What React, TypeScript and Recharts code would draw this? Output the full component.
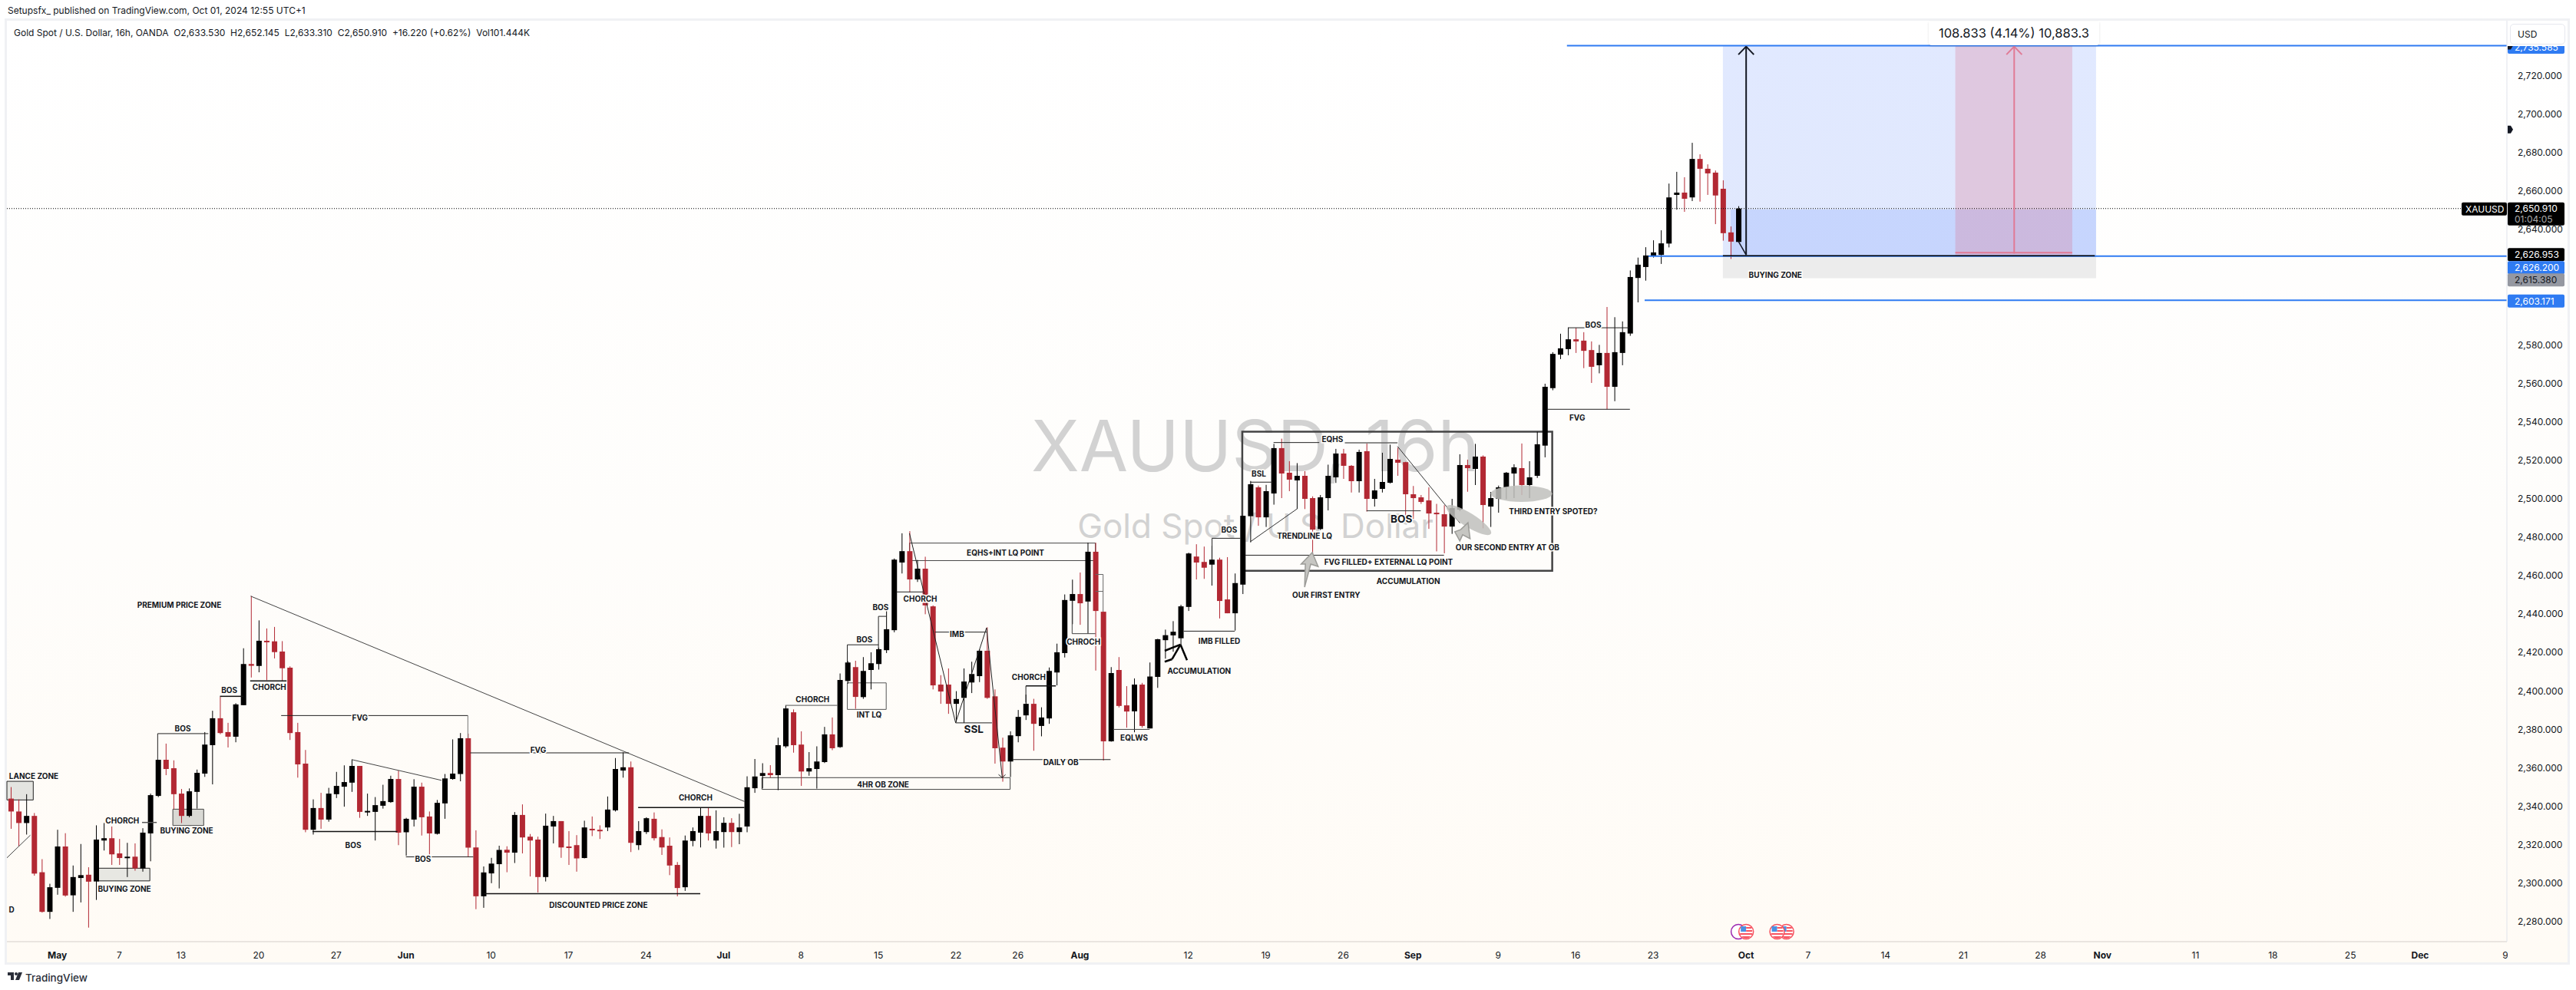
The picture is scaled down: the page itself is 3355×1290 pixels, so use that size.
import { Bar, ComposedChart, ReferenceArea, ReferenceDot, ReferenceLine, XAxis, YAxis } from 'recharts';

// OHLC, one entry per 16h bar, bar 1 is the first one at the left edge
const opens = [
  2344, 2337.3, 2331.3, 2335, 2305.7, 2285.1, 2297.6, 2319.1, 2293.7, 2302.7, 2304.4, 2300.9, 2322.2, 2323.4, 2315.5, 2313.2,
  2313.8, 2307.7, 2325.9, 2345.4, 2364.2, 2359.8, 2346.6, 2335, 2347.5, 2357, 2371.8, 2385.8, 2378.6, 2376.2, 2392.6, 2414,
  2413, 2426.1, 2425.8, 2420.5, 2412.1, 2378.6, 2362.2, 2327.8, 2339.1, 2333.1, 2346.3, 2350.2, 2352.3, 2361, 2337.1, 2337.1,
  2340.3, 2342.2, 2354.2, 2326.5, 2333.1, 2350.2, 2334.7, 2325.7, 2341.5, 2354.2, 2356.8, 2375.4, 2318.6, 2293.2, 2305.1, 2309.9,
  2317.4, 2315.9, 2335.5, 2324.2, 2322.7, 2303.2, 2329.5, 2332.3, 2319.1, 2319.8, 2313.1, 2328.3, 2327.8, 2329, 2337.9, 2358.6,
  2360.3, 2319.8, 2326.6, 2333.5, 2324, 2319.5, 2309.5, 2297.9, 2322, 2326.3, 2335, 2322.2, 2326.6, 2331.4, 2326.6, 2329.5,
  2349.4, 2355.8, 2357.3, 2356.2, 2371.2, 2388.9, 2372.1, 2358.1, 2359.4, 2363, 2377.4, 2370.8, 2405.2, 2412.4, 2396.8, 2410.9,
  2414, 2421.2, 2431.6, 2466.8, 2472.7, 2458, 2463.6, 2444, 2403.3, 2403.3, 2393.3, 2396.4, 2404.4, 2407.7, 2420.9, 2397.2,
  2370.5, 2363.3, 2376.5, 2387.3, 2393.3, 2381.8, 2385.7, 2409.6, 2419.7, 2446.9, 2450.4, 2446.5, 2472.4, 2441.2, 2373.8, 2410.9,
  2392.5, 2389.4, 2403.3, 2380.5, 2407.3, 2426.4, 2428.9, 2427.4, 2443.7, 2469.9, 2467.1, 2465.7, 2468.3, 2447.6, 2440.4, 2455.3,
  2490.9, 2505.9, 2490.3, 2502.7, 2526.3, 2513.5, 2509.5, 2511.9, 2500.3, 2484.2, 2500.3, 2511.1, 2523.5, 2517.1, 2509.1, 2524.7,
  2499.9, 2505.1, 2508.3, 2520.3, 2519, 2502.3, 2500.7, 2499.1, 2492.7, 2491.9, 2485.5, 2494.3, 2517.5, 2515.5, 2521.9, 2495.9,
  2499.9, 2505.9, 2513.1, 2515.9, 2507.1, 2511.9, 2527.6, 2557.5, 2574.9, 2577.8, 2582.9, 2582.2, 2577.3, 2569.4, 2575.8, 2558.2,
  2575.8, 2585.9, 2614.8, 2620.5, 2626.1, 2626.8, 2632.7, 2658, 2659.2, 2656.7, 2676.7, 2671.6, 2669.6, 2661.2, 2638.5, 2633.53,
];
const highs = [
  2350, 2343.6, 2346.3, 2336.5, 2312.5, 2299.7, 2327.8, 2326, 2309.2, 2320.4, 2308.3, 2330.1, 2331.3, 2329.5, 2323, 2321,
  2320.7, 2328.6, 2346.6, 2364.2, 2372.6, 2363.9, 2349, 2349.3, 2359.1, 2378.6, 2389.7, 2396.9, 2383.4, 2393.6, 2422.2, 2449.4,
  2436.7, 2432.5, 2433.3, 2425.9, 2412.8, 2383.4, 2369.3, 2343.6, 2347, 2349.6, 2357.9, 2361.3, 2364.3, 2361, 2346.6, 2344.8,
  2351.2, 2355.9, 2358.6, 2334, 2354.1, 2352.3, 2337.3, 2343.3, 2356.8, 2374.8, 2378.1, 2377.8, 2327.5, 2308.7, 2313.2, 2319.5,
  2319.2, 2337, 2341, 2325.6, 2324.2, 2336.2, 2335, 2332.3, 2327.1, 2325, 2332.5, 2334.7, 2330.1, 2345.1, 2365.1, 2368.1,
  2363.3, 2332.3, 2334.3, 2336.8, 2328, 2323.8, 2311, 2324.8, 2329, 2339.2, 2339.2, 2337.9, 2334.3, 2333.8, 2336.1, 2355.6,
  2364.6, 2362.4, 2361.4, 2375.7, 2392.4, 2390.4, 2379, 2368.2, 2371.2, 2381.3, 2386.2, 2409.1, 2415.5, 2415.7, 2417.6, 2420.1,
  2422.5, 2442.9, 2468.9, 2482, 2483.1, 2468.1, 2469.8, 2444.5, 2408.2, 2411.7, 2399.9, 2411.7, 2415.2, 2421.7, 2433.1, 2400.8,
  2375.7, 2379, 2390.1, 2398.1, 2395.9, 2391.5, 2412.2, 2424.6, 2450.2, 2457.9, 2461.6, 2477.1, 2477.1, 2441.2, 2412.4, 2417.6,
  2402.5, 2406.5, 2404.2, 2414.8, 2427.1, 2431.9, 2436.3, 2444.8, 2471.9, 2476.3, 2475.1, 2475.5, 2469.3, 2469.6, 2461.1, 2491.1,
  2509.2, 2506.8, 2507.2, 2528.5, 2531.2, 2519.5, 2518.5, 2514.3, 2501.2, 2501.9, 2517.7, 2525.9, 2525.9, 2517.5, 2525.5, 2528.7,
  2510.3, 2523.9, 2528.1, 2526.5, 2519.2, 2506.6, 2501.9, 2505.9, 2497.3, 2496.6, 2499.9, 2523.1, 2520.3, 2528.5, 2522.5, 2503.5,
  2506.8, 2513.9, 2517.9, 2528.7, 2519.5, 2534.8, 2559.8, 2576.2, 2585.8, 2589, 2588.9, 2586.6, 2581.8, 2580, 2599.7, 2594.4,
  2592.2, 2618.7, 2625.4, 2630.8, 2634.4, 2639.6, 2663.9, 2670, 2667.2, 2685.1, 2679.1, 2673.9, 2670.7, 2665.6, 2641.6, 2652.145,
];
const lows = [
  2328.3, 2319.2, 2325.3, 2303.9, 2284.7, 2281.4, 2294, 2293, 2285.1, 2290, 2276.9, 2291.3, 2317, 2309.5, 2309.5, 2303.2,
  2306.5, 2306, 2311.4, 2344.8, 2356.2, 2338.5, 2331.3, 2334.3, 2338.8, 2355.3, 2351.4, 2377.5, 2370.6, 2373.3, 2392.6, 2407,
  2409.7, 2405.6, 2416.9, 2404.9, 2374.5, 2354.9, 2326.5, 2325.3, 2328.3, 2332, 2344.3, 2339.8, 2347.5, 2334, 2335, 2322.2,
  2338.8, 2341.8, 2319.8, 2314.3, 2329.5, 2324.8, 2315, 2325.3, 2333.5, 2353.8, 2353, 2313.5, 2286.5, 2287.2, 2300, 2297.3,
  2305.7, 2310.5, 2315.5, 2303.5, 2295.2, 2300.9, 2320.7, 2313.2, 2309.5, 2306, 2312.9, 2324.5, 2323, 2327.1, 2337.3, 2354.9,
  2316.2, 2317.3, 2325.6, 2322.2, 2314.7, 2304.2, 2293.2, 2296, 2319.2, 2318.6, 2322.2, 2318, 2318.5, 2318.8, 2320.3, 2326.5,
  2347, 2349.3, 2354.9, 2348.4, 2370.4, 2367.9, 2350.6, 2355.9, 2349.2, 2362.5, 2369.2, 2370.4, 2403.8, 2390.7, 2395.9, 2400.8,
  2411.1, 2419.7, 2430.5, 2461.1, 2451.3, 2456.7, 2439.9, 2400.8, 2393.3, 2388.1, 2383.9, 2383.4, 2398.9, 2404.6, 2395.9, 2362.2,
  2352.8, 2355.2, 2373.3, 2384.9, 2368.9, 2376.4, 2382.9, 2402.9, 2417.4, 2434.7, 2434.4, 2429.8, 2410.6, 2363.8, 2373.6, 2391.4,
  2380.9, 2378.5, 2380.9, 2380.5, 2401.6, 2416.8, 2420.4, 2424.1, 2441.6, 2458, 2458.3, 2454.8, 2437.7, 2440.4, 2431.4, 2450.4,
  2477.3, 2485.9, 2485.3, 2496.9, 2500.3, 2503.9, 2494.6, 2494.6, 2471.3, 2483.7, 2493.9, 2508.2, 2510.3, 2503.2, 2503.2, 2493.3,
  2495.9, 2503.2, 2507.9, 2511.9, 2489.9, 2489.5, 2497.3, 2484.3, 2472.6, 2471.6, 2481.7, 2493.5, 2503.6, 2507.1, 2484.6, 2485.3,
  2492.7, 2499.7, 2500.3, 2501.9, 2500.3, 2510.8, 2521.5, 2556.4, 2572.6, 2574.6, 2575.8, 2567.9, 2560.2, 2565.2, 2546.5, 2550.7,
  2569.4, 2584.7, 2602.1, 2613.4, 2625.4, 2622.1, 2630.7, 2650.3, 2649.2, 2654.8, 2654.5, 2658, 2642.8, 2634.2, 2624.7, 2633.31,
];
const closes = [
  2337.3, 2331.3, 2335, 2305, 2285.1, 2297.9, 2319.1, 2293.6, 2303.2, 2304.2, 2300.8, 2322.7, 2323.4, 2315, 2313.1, 2313.8,
  2307.7, 2326.3, 2345.8, 2364.2, 2359.4, 2346.3, 2335, 2347.8, 2357.4, 2372.1, 2385.8, 2378.1, 2376.2, 2393, 2414, 2413.1,
  2426.1, 2425.8, 2420.2, 2411.8, 2378.1, 2361.8, 2327.8, 2339.1, 2333.1, 2346.6, 2350.6, 2352.6, 2361, 2337.1, 2337.6, 2340.6,
  2342.7, 2354.2, 2326.3, 2333.5, 2350.2, 2334.3, 2325.9, 2341.8, 2354.5, 2357, 2375.4, 2318.5, 2293.2, 2305.6, 2310.2, 2317.3,
  2315.9, 2335.5, 2323.8, 2322.2, 2303.2, 2329.9, 2332.3, 2318.6, 2318.3, 2312.9, 2329, 2327.5, 2327.5, 2338.3, 2359.4, 2360.3,
  2321, 2327.1, 2333.8, 2323.4, 2318.6, 2309.2, 2297.5, 2322.2, 2327.1, 2335, 2325.9, 2327.1, 2331.4, 2326.6, 2329, 2349.9,
  2355.5, 2357.3, 2356.2, 2371.8, 2390.9, 2371.8, 2358.1, 2359.8, 2363.3, 2377.4, 2370.2, 2405.7, 2414.8, 2396.9, 2410.4, 2414.4,
  2421.7, 2432.1, 2468.3, 2472.7, 2458, 2463.6, 2444.5, 2402.9, 2399.7, 2393.3, 2395.8, 2404.9, 2408.8, 2420.9, 2396.4, 2370.2,
  2363.3, 2376.9, 2386.5, 2393.3, 2382.9, 2386.2, 2410.4, 2420.1, 2447.3, 2450.4, 2445.6, 2472.4, 2441.6, 2373.8, 2409.3, 2392.2,
  2389.3, 2403.3, 2381.8, 2407.5, 2426.9, 2429, 2430.8, 2444, 2471.5, 2466.8, 2464.1, 2468.3, 2446.8, 2440.4, 2456.1, 2491.1,
  2507.5, 2490.3, 2503.9, 2526.3, 2513.1, 2509.9, 2511.9, 2499.9, 2483.9, 2500.7, 2511.9, 2523.5, 2517.1, 2509.1, 2524.3, 2499.9,
  2504.3, 2508.7, 2520.7, 2518.7, 2502.3, 2500.3, 2498.3, 2492.3, 2491.9, 2485.5, 2495.1, 2517.5, 2515.9, 2521.9, 2496.7, 2500.3,
  2505.9, 2513.5, 2516.3, 2507.1, 2511.1, 2528.3, 2558.2, 2575.3, 2578.2, 2582.9, 2581.8, 2576.9, 2568.6, 2575.8, 2558.2, 2576.2,
  2586.6, 2615.3, 2621.7, 2626.5, 2628.1, 2632.8, 2656.7, 2659.2, 2656, 2676.7, 2671.6, 2669.2, 2657.7, 2638.1, 2633.7, 2650.91,
];

const yTicks = [
  2280, 2300, 2320, 2340, 2360, 2380, 2400, 2420, 2440, 2460, 2480, 2500, 2520, 2540, 2560, 2580, 2640, 2660, 2680, 2700, 2720,
];
const xTickBars = [7, 15, 23, 33, 43, 52, 63, 73, 83, 93, 103, 113, 123, 131, 139, 153, 163, 173, 182, 193, 203, 213, 225, 233, 243, 253, 263, 271, 283, 293, 303, 312, 323];
const xTickLabels = ['May', '7', '13', '20', '27', 'Jun', '10', '17', '24', 'Jul', '8', '15', '22', '26', 'Aug', '12', '19', '26', 'Sep', '9', '16', '23', 'Oct', '7', '14', '21', '28', 'Nov', '11', '18', '25', 'Dec', '9'];

// drawn lines: bar, price, bar, price, [colour], [width]
const drawnLines: [number, number, number, number, string?, number?][] = [
  [0.5, 2313.2, 3.53, 2325, '#444'],
  [17.94, 2331.6, 19.84, 2331.6, '#555', 1.5],
  [19.96, 2377.8, 19.96, 2364.2],
  [19.96, 2377.8, 26.5, 2377.8],
  [28, 2397.2, 31, 2397.2, '#111', 1.5],
  [31.9, 2405.2, 36.6, 2405.2, '#111', 1.5],
  [31.97, 2449.3, 95.7, 2342.5, '#444'],
  [35.9, 2387.2, 60, 2387.2],
  [60, 2387.2, 60, 2375.4, '#777'],
  [60.3, 2367.8, 80.8, 2367.8],
  [45, 2364.3, 56.6, 2353.5, '#444'],
  [39.94, 2326.9, 50.9, 2326.9, '#111', 1.5],
  [52, 2313.7, 60.7, 2313.7],
  [62.06, 2294.5, 90, 2294.5, '#111', 1.5],
  [81.98, 2339.4, 95.7, 2339.4, '#111', 1.5],
  [100.97, 2392.5, 107.7, 2392.5, '#555'],
  [108.98, 2424, 113, 2424],
  [108.98, 2424, 108.98, 2414.8],
  [113, 2438.8, 114, 2438.8],
  [113, 2438.8, 113, 2421.7],
  [115.3, 2451.5, 118.76, 2451.5],
  [117, 2482, 122.96, 2383.4, '#222'],
  [122.96, 2383.4, 126.95, 2432.8, '#222'],
  [126.95, 2432.8, 128.98, 2354.9, '#222'],
  [128.5, 2356.5, 128.98, 2354.9, '#222'],
  [129.4, 2356.5, 128.98, 2354.9, '#222'],
  [120.3, 2430.6, 126.95, 2430.6],
  [122.96, 2383.4, 127.65, 2383.4],
  [130.35, 2364.3, 142.96, 2364.3],
  [132.03, 2402.6, 135.9, 2402.6, '#111', 1.5],
  [132.03, 2402.6, 132.03, 2394],
  [138, 2446.9, 138, 2429.8, '#444'],
  [138, 2429.8, 141, 2429.8, '#444'],
  [141, 2460.6, 142, 2460.6, '#666'],
  [141, 2451.8, 142, 2451.8, '#666'],
  [142, 2460.6, 142, 2441.2, '#666'],
  [143.3, 2380, 148, 2380, '#444'],
  [152.4, 2431.1, 159, 2431.1],
  [156.06, 2479.4, 159.7, 2479.4],
  [156.06, 2479.4, 156.06, 2468.3],
  [149.95, 2420.9, 151.99, 2424.1, '#000', 2.5],
  [151.99, 2424.1, 152.83, 2416, '#000', 2.5],
  [149.95, 2415.2, 150.9, 2416.5, '#000', 2.5],
  [150.9, 2416.5, 151.99, 2424.1, '#000', 2.5],
  [161, 2508.6, 163.9, 2508.6],
  [164, 2529.2, 169.9, 2529.2],
  [173.2, 2529.1, 180, 2529.1, '#666', 1.5],
  [161, 2477.6, 167, 2494.6, '#333'],
  [176, 2493.7, 183, 2493.7, '#333'],
  [180, 2527.2, 188.06, 2487.3, '#333'],
  [160.34, 2470.6, 186, 2470.6],
  [199.3, 2546.5, 210, 2546.5],
  [202, 2588.9, 209.9, 2588.9],
  [224, 2633.9, 225, 2626.8, '#131722', 1.5],
];

// boxes: bar, price, bar, price, fill, stroke, width
const drawnBoxes: [number, number, number, number, string, string, number][] = [
  [0.5, 2353, 3.9, 2343.3, '#e4e4e0', '#222', 1],
  [12.06, 2307.8, 18.95, 2301.2, '#e7e7e2', '#222', 1],
  [21.92, 2338.5, 25.9, 2330, '#d9d9d4', '#444', 1],
  [97.96, 2354.9, 130, 2348.8, 'none', '#444', 1],
  [108.98, 2404.2, 114, 2390.4, 'none', '#555', 1],
  [117, 2476.9, 141, 2467.8, 'none', '#444', 1],
  [159.96, 2534.8, 199.97, 2462.5, 'none', '#444', 2.5],
];

// label, bar, price, [font size]
const drawnLabels: [string, number, number, number?][] = [
  ['LANCE ZONE', 3.97, 2355.7],
  ['D', 1.1, 2286.5],
  ['CHORCH', 15.4, 2332.8],
  ['BUYING ZONE', 15.67, 2297],
  ['BUYING ZONE', 23.7, 2327.4],
  ['BOS', 23.2, 2380.4],
  ['BOS', 29.2, 2400.4],
  ['CHORCH', 34.38, 2402],
  ['PREMIUM PRICE ZONE', 22.75, 2445],
  ['FVG', 46.07, 2386.2],
  ['FVG', 69.08, 2369.4],
  ['BOS', 45.2, 2320],
  ['BOS', 54.2, 2312.9],
  ['DISCOUNTED PRICE ZONE', 76.85, 2288.6],
  ['CHORCH', 89.4, 2344.5],
  ['CHORCH', 104.5, 2395.9],
  ['4HR OB ZONE', 113.6, 2351.6],
  ['BOS', 111.19, 2427],
  ['BOS', 113.27, 2443.8],
  ['INT LQ', 111.8, 2387.6],
  ['CHORCH', 118.4, 2447.9],
  ['EQHS+INT LQ POINT', 129.4, 2471.9],
  ['IMB', 123.14, 2429.8],
  ['SSL', 125.3, 2380.3, 13.5],
  ['DAILY OB', 136.55, 2362.9],
  ['CHORCH', 132.4, 2407.5],
  ['CHROCH', 139.47, 2425.8],
  ['EQLWS', 146, 2375.6],
  ['ACCUMULATION', 154.4, 2410.6],
  ['IMB FILLED', 157, 2426.2],
  ['BOS', 158.27, 2483.8],
  ['BSL', 162.1, 2513.2],
  ['EQHS', 171.6, 2531.2],
  ['TRENDLINE LQ', 168, 2480.6],
  ['BOS', 180.5, 2489.7, 13.5],
  ['FVG FILLED+ EXTERNAL LQ POINT', 178.85, 2467],
  ['ACCUMULATION', 181.4, 2457.1],
  ['OUR FIRST ENTRY', 170.8, 2449.9],
  ['OUR SECOND ENTRY AT OB', 194.2, 2474.6],
  ['THIRD ENTRY SPOTED?', 200.1, 2493.4],
  ['FVG', 203.2, 2542.1],
  ['BOS', 205.26, 2590.6],
];

// text, price, background, text colour, pixels to shift when tags stack
const priceTags: [string, number, string, string, number][] = [
  ['2,735.585', 2735.585, '#2f7bf2', '#ffffff', 2],
  ['2,626.953', 2626.953, '#000000', '#ffffff', 0],
  ['2,626.200', 2626.2, '#2f7bf2', '#ffffff', 15],
  ['2,615.380', 2615.38, '#9598a1', '#131722', 4],
  ['2,603.171', 2603.171, '#2f7bf2', '#ffffff', 1],
];
const axisMarkers = [2735.585, 2692];
const blueLevels: [number, number][] = [
  [201.87, 2735.585],
  [212.39, 2626.2],
  [211.9, 2603.171],
];
const lastPrice = 2650.91;
const eventBars: [number, string][] = [
  [224, 'purple'],
  [225, 'us'],
  [230.2, 'us'],
  [229, 'us'],
];

const XMIN = 0.5;
const XMAX = 323.2;
const FONT = 'Inter, sans-serif';
const RED = '#b22833';
const INK = '#131722';

const chartData = opens.map((open, i) => ({
  bar: i + 1,
  open,
  high: highs[i],
  low: lows[i],
  close: closes[i],
  range: [lows[i], highs[i]],
}));

function Candle(props: any) {
  const { x, y, width, height, payload } = props;
  const color = payload.close >= payload.open ? '#000000' : RED;
  const perUnit = height / (payload.high - payload.low);
  const top = y + (payload.high - Math.max(payload.open, payload.close)) * perUnit;
  const bottom = y + (payload.high - Math.min(payload.open, payload.close)) * perUnit;
  const mid = x + width / 2;
  return (
    <g>
      <line x1={mid} x2={mid} y1={y} y2={y + height} stroke={color} strokeWidth={1} />
      <rect x={x} y={top} width={width} height={Math.max(bottom - top, 2)} fill={color} />
    </g>
  );
}

function XTick({ x, y, payload }: any) {
  const label = xTickLabels[xTickBars.indexOf(payload.value)];
  const isMonth = /[A-Z]/.test(label);
  return (
    <text x={x} y={y + 14} textAnchor="middle" fontFamily={FONT} fontSize={12} fontWeight={isMonth ? 700 : 400} fill={INK}>
      {label}
    </text>
  );
}

const noteText = (label: string, size = 10) => (p: any) => (
  <text
    x={p.cx}
    y={p.cy}
    textAnchor="middle"
    dominantBaseline="central"
    fontFamily={FONT}
    fontSize={size}
    fontWeight={700}
    fill={INK}
    stroke="#fffdf8"
    strokeWidth={3}
    paintOrder="stroke"
  >
    {label}
  </text>
);

const tagShape = (label: string, bg: string, fg: string, shift: number) => (p: any) => (
  <g>
    <rect x={p.cx + 1} y={p.cy + shift - 8.5} width={74} height={17} rx={2} fill={bg} />
    <text x={p.cx + 10} y={p.cy + shift} dominantBaseline="central" fontFamily={FONT} fontSize={12} fill={fg}>
      {label}
    </text>
  </g>
);

function LastPriceTag(p: any) {
  return (
    <g fontFamily={FONT} fontSize={12}>
      <rect x={p.cx - 59} y={p.cy - 8} width={59} height={17} rx={2} fill="#000" />
      <text x={p.cx - 54} y={p.cy + 0.5} dominantBaseline="central" fill="#fff">XAUUSD</text>
      <rect x={p.cx + 1} y={p.cy - 8} width={74} height={30} rx={2} fill="#000" />
      <text x={p.cx + 10} y={p.cy} dominantBaseline="central" fill="#fff">2,650.910</text>
      <text x={p.cx + 10} y={p.cy + 14} dominantBaseline="central" fill="#a9a9a9">01:04:05</text>
    </g>
  );
}

const marker = (p: any) => (
  <path d={`M${p.cx + 1} ${p.cy - 5}h4l3 5l-3 5h-4z`} fill={INK} />
);

const ellipseAt = (rx: number, ry: number, angle: number) => (p: any) => (
  <ellipse cx={p.cx} cy={p.cy} rx={rx} ry={ry} fill="#bfbfbc" opacity={0.85} transform={`rotate(${angle} ${p.cx} ${p.cy})`} />
);

const arrowAt = (points: string) => (p: any) => (
  <polygon points={points} transform={`translate(${p.cx} ${p.cy})`} fill="#c6c6c2" stroke="#9c9c98" strokeWidth={1.5} />
);

const eventIcon = (kind: string) => (p: any) => (
  <g transform={`translate(${p.cx} ${p.cy})`}>
    <circle r={9.5} fill="#fff" stroke={kind === 'us' ? '#f7525f' : '#9c27b0'} strokeWidth={1.5} />
    {kind === 'us' && (
      <g>
        <rect x={-7} y={-7} width={7} height={7} fill="#4a90e2" />
        <rect x={0} y={-6} width={7} height={2} fill="#f7525f" />
        <rect x={0} y={-2} width={8} height={2} fill="#f7525f" />
        <rect x={-8} y={2} width={16} height={2} fill="#f7525f" />
        <path d="M-6 6h12a8 8 0 0 1-12 0z" fill="#f7525f" />
      </g>
    )}
  </g>
);

const dotProps = { r: 0, isFront: true, ifOverflow: 'visible' as const };

export default function App() {
  return (
    <div style={{ position: 'absolute', left: 0, top: 0, width: 3355, height: 1290, background: '#fff', fontFamily: FONT, color: INK, overflow: 'hidden' }}>
      <div style={{ position: 'absolute', left: 10, top: 7, fontSize: 12, lineHeight: '14px', whiteSpace: 'nowrap' }}>
        Setupsfx_ published on TradingView.com, Oct 01, 2024 12:55 UTC+1
      </div>

      {/* frame, background and watermark sit under the chart */}
      <div style={{ position: 'absolute', left: 6, top: 24, width: 3335, height: 1227, border: '3px solid #f0f1f4', background: 'linear-gradient(#ffffff 0%, #fefdfb 55%, #fffbf5 100%)', overflow: 'hidden' }} />
      <div style={{ position: 'absolute', left: 1135, width: 1000, top: 523, textAlign: 'center', fontSize: 92, lineHeight: '116px', color: '#d2d2d2', whiteSpace: 'nowrap' }}>
        XAUUSD, 16h
      </div>
      <div style={{ position: 'absolute', left: 1135, width: 1000, top: 656, textAlign: 'center', fontSize: 44, lineHeight: '58px', color: '#d2d2d2', whiteSpace: 'nowrap' }}>
        Gold Spot / U.S. Dollar
      </div>

      <div style={{ position: 'absolute', left: 0, top: 0 }}>
        <ComposedChart width={3355} height={1290} data={chartData} margin={{ top: 27, right: 11, bottom: 36, left: 9 }}>
          <XAxis
            dataKey="bar"
            type="number"
            domain={[XMIN, XMAX]}
            allowDataOverflow
            ticks={xTickBars}
            interval={0}
            height={27}
            tickLine={false}
            axisLine={{ stroke: '#e3ded8', strokeWidth: 1.5 }}
            tick={<XTick />}
          />
          <YAxis
            orientation="right"
            width={79}
            domain={[2269.6, 2748.6]}
            allowDataOverflow
            ticks={yTicks}
            interval={0}
            tickLine={false}
            tickMargin={8}
            axisLine={{ stroke: '#e0e3eb' }}
            tickFormatter={(v: number) => v.toLocaleString('en-US', { minimumFractionDigits: 3 })}
            tick={{ fill: INK, fontFamily: FONT, fontSize: 12 }}
          />

          {/* long position block */}
          <ReferenceArea x1={222} x2={270.17} y1={2626.4} y2={2735.6} fill="rgba(41,98,255,0.14)" fillOpacity={1} stroke="none" ifOverflow="visible" />
          <ReferenceArea x1={223} x2={270.17} y1={2626.4} y2={2650.4} fill="rgba(41,98,255,0.14)" fillOpacity={1} stroke="none" ifOverflow="visible" />
          <ReferenceArea x1={222} x2={270.17} y1={2614.7} y2={2626.4} fill="#ececec" fillOpacity={1} stroke="none" ifOverflow="visible" />
          <ReferenceArea x1={252} x2={267.1} y1={2626.5} y2={2735.6} fill="rgba(220,104,132,0.25)" fillOpacity={1} stroke="none" ifOverflow="visible" />

          {drawnBoxes.map(([x1, y1, x2, y2, fill, stroke, width], i) => (
            <ReferenceArea key={`box${i}`} x1={x1} x2={x2} y1={y2} y2={y1} fill={fill} fillOpacity={1} stroke={stroke} strokeWidth={width} ifOverflow="visible" />
          ))}

          <ReferenceDot x={196} y={2502.6} {...dotProps} shape={ellipseAt(40, 10.7, 0)} />
          <ReferenceDot x={189.2} y={2488.9} {...dotProps} shape={ellipseAt(34, 9, 32)} />

          <Bar dataKey="range" barSize={7} shape={<Candle />} isAnimationActive={false} />

          <ReferenceLine y={lastPrice} stroke="#000" strokeWidth={1} strokeDasharray="1 2" ifOverflow="visible" />

          {drawnLines.map(([x1, y1, x2, y2, color, width], i) => (
            <ReferenceLine
              key={`line${i}`}
              segment={[{ x: x1, y: y1 }, { x: x2, y: y2 }]}
              stroke={color ?? '#222'}
              strokeWidth={width ?? 1}
              ifOverflow="visible"
            />
          ))}

          {blueLevels.map(([from, price]) => (
            <ReferenceLine key={price} segment={[{ x: from, y: price }, { x: XMAX, y: price }]} stroke="#2f7bf2" strokeWidth={2} ifOverflow="visible" />
          ))}
          <ReferenceLine segment={[{ x: 222, y: 2626.4 }, { x: 270, y: 2626.4 }]} stroke="#000" strokeWidth={1.5} ifOverflow="visible" />
          <ReferenceLine segment={[{ x: 252, y: 2628 }, { x: 267.1, y: 2628 }]} stroke="#e07a95" strokeWidth={2} ifOverflow="visible" />

          {/* measure arrows */}
          <ReferenceLine segment={[{ x: 225, y: 2626.8 }, { x: 225, y: 2735.2 }]} stroke={INK} strokeWidth={2} ifOverflow="visible" />
          <ReferenceLine segment={[{ x: 224, y: 2731 }, { x: 225, y: 2735.2 }]} stroke={INK} strokeWidth={2} ifOverflow="visible" />
          <ReferenceLine segment={[{ x: 226, y: 2731 }, { x: 225, y: 2735.2 }]} stroke={INK} strokeWidth={2} ifOverflow="visible" />
          <ReferenceLine segment={[{ x: 259.6, y: 2627.5 }, { x: 259.6, y: 2735.2 }]} stroke="#e07a95" strokeWidth={2} ifOverflow="visible" />
          <ReferenceLine segment={[{ x: 258.6, y: 2731 }, { x: 259.6, y: 2735.2 }]} stroke="#e07a95" strokeWidth={2} ifOverflow="visible" />
          <ReferenceLine segment={[{ x: 260.6, y: 2731 }, { x: 259.6, y: 2735.2 }]} stroke="#e07a95" strokeWidth={2} ifOverflow="visible" />

          <ReferenceDot x={169} y={2472} {...dotProps} shape={arrowAt('0,0 7.6,18.3 -2,15 -10,45 -9,15 -14.5,15')} />
          <ReferenceDot x={189.1} y={2487.5} {...dotProps} shape={arrowAt('0,0 2.7,20.7 -7,15.7 -10.7,23.7 -17.2,11.7 -9.6,9')} />

          {drawnLabels.map(([label, bar, price, size], i) => (
            <ReferenceDot key={`note${i}`} x={bar} y={price} {...dotProps} shape={noteText(label, size)} />
          ))}
          <ReferenceDot x={228.77} y={2616.3} {...dotProps} shape={noteText('BUYING ZONE')} />

          {eventBars.map(([bar, kind], i) => (
            <ReferenceDot key={`event${i}`} x={bar} y={2274.8} {...dotProps} shape={eventIcon(kind)} />
          ))}

          {priceTags.map(([label, price, bg, fg, shift]) => (
            <ReferenceDot key={label} x={XMAX} y={price} {...dotProps} shape={tagShape(label, bg, fg, shift)} />
          ))}
          <ReferenceDot x={XMAX} y={lastPrice} {...dotProps} shape={LastPriceTag} />
          {axisMarkers.map((price) => (
            <ReferenceDot key={price} x={XMAX} y={price} {...dotProps} shape={marker} />
          ))}
        </ComposedChart>
      </div>

      {/* measure tooltip and USD button */}
      <div style={{ position: 'absolute', left: 2512, top: 28, width: 222, height: 31, background: '#fff', borderRadius: '0 0 4px 4px', boxShadow: '0 1px 3px rgba(0,0,0,.12)', textAlign: 'center', fontSize: 16.5, lineHeight: '30px', whiteSpace: 'nowrap' }}>
        108.833 (4.14%) 10,883.3
      </div>
      <div style={{ position: 'absolute', left: 3266, top: 27, width: 78, height: 33, background: '#fff' }}>
        <div style={{ position: 'absolute', left: 3, top: 4, width: 70, height: 25, border: '1px solid #e6e8ef', borderRadius: 5, fontSize: 12, lineHeight: '25px', paddingLeft: 0, textIndent: 9 }}>USD</div>
      </div>
      <div style={{ position: 'absolute', left: 3266, top: 1228, width: 78, height: 26, background: '#fffbf5' }} />

      {/* TradingView footer */}
      <svg style={{ position: 'absolute', left: 10, top: 1267 }} width={20} height={11}>
        <path d="M0 0h8v10h-4v-6h-4z M14 0h5l-4 10h-5z" fill="#2a2e39" />
        <circle cx={11} cy={2} r={2} fill="#2a2e39" />
      </svg>
      <div style={{ position: 'absolute', left: 33, top: 1265, fontSize: 13.5, lineHeight: '18px', color: '#2a2e39', fontWeight: 500 }}>TradingView</div>

      <div style={{ position: 'absolute', left: 18, top: 36, fontSize: 12, lineHeight: '14px', whiteSpace: 'pre' }}>
        {'Gold Spot / U.S. Dollar, 16h, OANDA  O2,633.530  H2,652.145  L2,633.310  C2,650.910  +16.220 (+0.62%)  Vol101.444K'}
      </div>
    </div>
  );
}
